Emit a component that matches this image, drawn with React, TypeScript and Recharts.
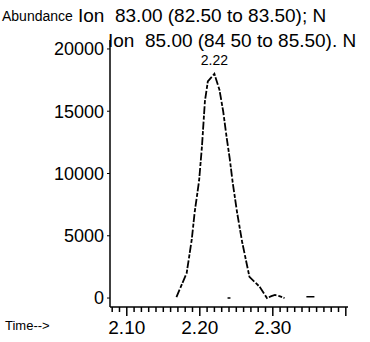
import React from 'react';
import {
  LineChart,
  Line,
  XAxis,
  YAxis,
  ReferenceDot,
} from 'recharts';

// retention time (min) and abundance of the ion trace
const TIMES = [
  2.168, 2.182, 2.189, 2.193, 2.199, 2.203, 2.207, 2.211, 2.22, 2.227, 2.232, 2.237,
  2.241, 2.245, 2.251, 2.258, 2.268, 2.282, 2.292, 2.298, 2.303, 2.309, 2.316,
];
const ABUNDANCE = [
  80, 2000, 4700, 6900, 9400, 12200, 15800, 17400, 18000, 16700, 15000, 12800,
  11200, 9300, 6900, 4500, 1700, 900, 0, 150, 250, 150, 0,
];

// short baseline blips away from the peak
const NOISE_TIMES = [2.238, 2.242, 2.244, 2.346, 2.357];
const NOISE_VALUES = [0, 0, null, 100, 100];

const PEAK_TIME = 2.22;
const PEAK_VALUE = 18000;
const PEAK_LABEL = '2.22';

const Y_TICKS = [0, 5000, 10000, 15000, 20000];
const X_TICKS = [
  2.08, 2.09, 2.1, 2.11, 2.12, 2.13, 2.14, 2.15, 2.16, 2.17, 2.18, 2.19, 2.2, 2.21,
  2.22, 2.23, 2.24, 2.25, 2.26, 2.27, 2.28, 2.29, 2.3, 2.31, 2.32, 2.33, 2.34, 2.35,
  2.36, 2.37, 2.38, 2.39, 2.4,
];
const X_MAJOR = [2.1, 2.2, 2.3];

const HEADER_1 = 'Ion  83.00 (82.50 to 83.50); N';
const HEADER_2 = 'Ion  85.00 (84 50 to 85.50). N';

const data = TIMES.map((t, i) => ({ t, v: ABUNDANCE[i] }));
const noise = NOISE_TIMES.map((t, i) => ({ t, v: NOISE_VALUES[i] }));

const FONT = '"Liberation Sans", Arial, sans-serif';

const TimeTick = (props: any) => {
  const { x, y, payload } = props;
  const val = Number(payload.value);
  const major = X_MAJOR.some((m) => Math.abs(m - val) < 1e-6);
  const last = Math.abs(val - 2.4) < 1e-6;
  return (
    <g>
      <line x1={x} x2={x} y1={y} y2={y + (major || last ? 9 : 5)} stroke="#000" strokeWidth={1.5} />
      {major && (
        <text x={x} y={y + 27} textAnchor="middle" fontSize={19} fontFamily={FONT} fill="#000">
          {val.toFixed(2)}
        </text>
      )}
    </g>
  );
};

export default function App() {
  return (
    <div style={{ position: 'absolute', left: 0, top: 0, width: 370, height: 342, background: '#fff', fontFamily: FONT, overflow: 'hidden' }}>
      <LineChart width={370} height={342} margin={{ top: 40, right: 22, left: 0, bottom: 0 }}>
        <XAxis
          type="number"
          dataKey="t"
          domain={[2.077, 2.403]}
          ticks={X_TICKS}
          allowDataOverflow
          tickLine={false}
          tickSize={0}
          tickMargin={0}
          height={35}
          axisLine={{ stroke: '#000', strokeWidth: 1.5 }}
          tick={<TimeTick />}
          interval={0}
        />
        <YAxis
          type="number"
          domain={[-720, 20720]}
          ticks={Y_TICKS}
          allowDataOverflow
          width={110}
          tickSize={3}
          tickMargin={3}
          axisLine={{ stroke: '#000', strokeWidth: 1.5 }}
          tickLine={{ stroke: '#000', strokeWidth: 1 }}
          tick={{ fill: '#000', fontSize: 18, fontFamily: FONT }}
          interval={0}
        />
        <Line
          data={data}
          dataKey="v"
          type="linear"
          stroke="#000"
          strokeWidth={1.8}
          strokeDasharray="8 2 4 1.5"
          dot={false}
          isAnimationActive={false}
        />
        <Line
          data={noise}
          dataKey="v"
          type="linear"
          stroke="#000"
          strokeWidth={1.5}
          dot={false}
          connectNulls={false}
          isAnimationActive={false}
        />
        <ReferenceDot
          x={PEAK_TIME}
          y={PEAK_VALUE}
          r={0}
          label={{ value: PEAK_LABEL, position: 'top', offset: 9, fontSize: 14, fill: '#000', fontFamily: FONT }}
        />
      </LineChart>
      <div style={{ position: 'absolute', left: 2, top: 8, fontSize: 14, color: '#000', whiteSpace: 'nowrap' }}>
        Abundance
      </div>
      <div style={{ position: 'absolute', left: 78, top: 5, fontSize: 19, color: '#000', whiteSpace: 'pre' }}>
        {HEADER_1}
      </div>
      <div style={{ position: 'absolute', left: 108, top: 30, fontSize: 19, color: '#000', whiteSpace: 'pre' }}>
        {HEADER_2}
      </div>
      <div style={{ position: 'absolute', left: 5, top: 318, fontSize: 13, color: '#000', whiteSpace: 'nowrap' }}>
        Time--&gt;
      </div>
    </div>
  );
}
